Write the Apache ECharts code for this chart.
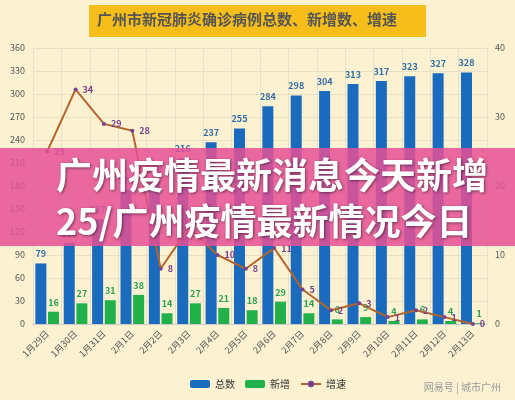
<!DOCTYPE html><html><head><meta charset="utf-8"><script src="https://cdn.jsdelivr.net/npm/echarts@6/dist/echarts.min.js"></script></head><body style="margin:0;background:#fcf2d2"><div id="c" style="width:515px;height:400px"></div><script>
const categories=['1月29日','1月30日','1月31日','2月1日','2月2日','2月3日','2月4日','2月5日','2月6日','2月7日','2月8日','2月9日','2月10日','2月11日','2月12日','2月13日'];
const totals=[79,106,137,175,189,216,237,255,284,298,304,313,317,323,327,328];
const added=[16,27,31,38,14,27,21,18,29,14,6,9,4,6,4,1];
const growth=[25,34,29,28,8,14,10,8,11,5,2,3,1,2,1,0];
const c=echarts.init(document.getElementById('c'));
const f='"Noto Sans CJK SC"';
c.setOption({backgroundColor:'#fcf2d2',textStyle:{fontFamily:f},
grid:{left:33,right:28,top:48,bottom:76},
legend:{bottom:6,left:185,itemGap:10,textStyle:{fontSize:10,color:'#333'},itemWidth:20,itemHeight:8,data:['总数','新增','增速']},
xAxis:{type:'category',data:categories,axisLabel:{rotate:45,fontSize:9,color:'#555',interval:0},axisTick:{show:false},axisLine:{lineStyle:{color:'#ccc'}},splitLine:{show:true,lineStyle:{color:'#e8e0c8'}}},
yAxis:[{min:0,max:360,interval:30,axisLabel:{fontSize:9,color:'#555'},splitLine:{lineStyle:{color:'#e8e0c8'}}},
{min:0,max:40,interval:10,axisLabel:{fontSize:9,color:'#555'},splitLine:{show:false}}],
series:[{name:'总数',type:'bar',data:totals,barWidth:11,barGap:'15%',itemStyle:{color:'#1a6bbd'},label:{show:true,position:'top',fontSize:9,fontWeight:'bold',color:'#2f6ea5'}},
{name:'新增',type:'bar',data:added,barWidth:11,itemStyle:{color:'#22b04b'},label:{show:true,position:'top',fontSize:9,fontWeight:'bold',color:'#2aa050'}},
{name:'增速',type:'line',yAxisIndex:1,data:growth,symbol:'circle',symbolSize:4,lineStyle:{color:'#b5652a',width:2},itemStyle:{color:'#7a3f8f'},label:{show:true,position:'right',fontSize:9,fontWeight:'bold',color:'#7a3f8f'}}],
graphic:[{type:'rect',z:100,left:89,top:5,shape:{width:337,height:32},style:{fill:'#f5be1a'}},
{type:'text',z:101,left:97,top:12,style:{text:'广州市新冠肺炎确诊病例总数、新增数、增速',fontSize:15,fontWeight:'bold',fill:'#555',fontFamily:f}},
{type:'rect',z:100,left:0,top:148,shape:{width:515,height:98},style:{fill:'rgba(232,80,150,0.85)'}},
{type:'text',z:101,left:56,top:152,style:{text:'广州疫情最新消息今天新增\n25/广州疫情最新情况今日',fontSize:36,fontWeight:'bold',fill:'#fff',lineHeight:46,align:'left',fontFamily:f,textShadowColor:'rgba(0,0,0,0.5)',textShadowBlur:3,textShadowOffsetX:1,textShadowOffsetY:1}},
{type:'text',z:100,right:14,bottom:8,style:{text:'网易号 | 城市广州',fontSize:10,fill:'#999',fontFamily:f}}]});
</script></body></html>
